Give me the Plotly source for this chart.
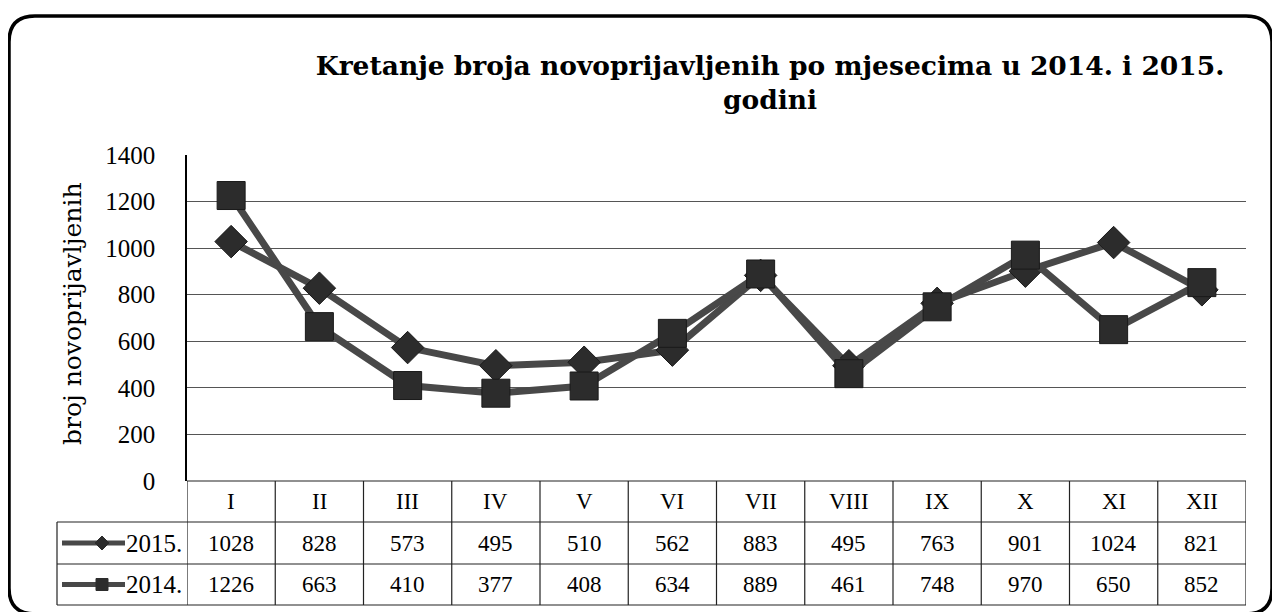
import plotly.graph_objects as go

W, H = 1280, 612
OFF = 8  # page body margin in the browser

months = ["I", "II", "III", "IV", "V", "VI", "VII", "VIII", "IX", "X", "XI", "XII"]
series_names = ["2015.", "2014."]
values_2015 = [1028, 828, 573, 495, 510, 562, 883, 495, 763, 901, 1024, 821]
values_2014 = [1226, 663, 410, 377, 408, 634, 889, 461, 748, 970, 650, 852]
y_ticks = [0, 200, 400, 600, 800, 1000, 1200, 1400]

title_text = "Kretanje broja novoprijavljenih po mjesecima u 2014. i 2015.<br>godini"
y_title = "broj novoprijavljenih"

SERIF = "Liberation Serif"
TSERIF = "DejaVu Serif"
LINE_COL = "#484848"
MARK_COL = "#2c2c2c"
GRID_COL = "#555555"
TABLE_COL = "#222222"


def px(x):
    return (x - OFF) / W


def py(y):
    return 1 - (y - OFF) / H


# plot area in reference pixels
PL, PR, PT, PB = 187, 1246, 155, 481
ROW_Y = [481, 522, 564, 605]
KEY_L = 57

fig = go.Figure()

fig.add_trace(go.Scatter(
    x=months, y=values_2015, mode="lines+markers",
    name=series_names[0],
    line=dict(color=LINE_COL, width=7),
    marker=dict(symbol="diamond", size=25, color=MARK_COL,
                line=dict(color="#1a1a1a", width=1)),
    showlegend=False,
))
fig.add_trace(go.Scatter(
    x=months, y=values_2014, mode="lines+markers",
    name=series_names[1],
    line=dict(color=LINE_COL, width=7),
    marker=dict(symbol="square", size=28, color=MARK_COL,
                line=dict(color="#1a1a1a", width=1)),
    showlegend=False,
))

shapes = []
annotations = []

# table horizontal lines
shapes.append(dict(type="line", xref="paper", yref="paper",
                   x0=px(PL), x1=px(PR), y0=py(ROW_Y[0]), y1=py(ROW_Y[0]),
                   line=dict(color=TABLE_COL, width=1.2)))
for yy in ROW_Y[1:]:
    shapes.append(dict(type="line", xref="paper", yref="paper",
                       x0=px(KEY_L), x1=px(PR), y0=py(yy), y1=py(yy),
                       line=dict(color=TABLE_COL, width=1.2)))
# table vertical lines (column borders, via x-axis scale)
for i in range(len(months) + 1):
    shapes.append(dict(type="line", xref="x", yref="paper",
                       x0=i - 0.5, x1=i - 0.5, y0=py(ROW_Y[0]), y1=py(ROW_Y[3]),
                       line=dict(color=TABLE_COL, width=1.2)))
shapes.append(dict(type="line", xref="paper", yref="paper",
                   x0=px(KEY_L), x1=px(KEY_L), y0=py(ROW_Y[1]), y1=py(ROW_Y[3]),
                   line=dict(color=TABLE_COL, width=1.2)))

cell_font = dict(family=SERIF, size=23, color="black")

# category labels and values
for i, m in enumerate(months):
    annotations.append(dict(x=i, y=py((ROW_Y[0] + ROW_Y[1]) / 2), xref="x", yref="paper",
                            xanchor="center", yanchor="middle",
                            text=m, showarrow=False, font=cell_font))
    annotations.append(dict(x=i, y=py((ROW_Y[1] + ROW_Y[2]) / 2), xref="x", yref="paper",
                            xanchor="center", yanchor="middle",
                            text=str(values_2015[i]), showarrow=False, font=cell_font))
    annotations.append(dict(x=i, y=py((ROW_Y[2] + ROW_Y[3]) / 2), xref="x", yref="paper",
                            xanchor="center", yanchor="middle",
                            text=str(values_2014[i]), showarrow=False, font=cell_font))

# legend keys in table
for k, (name, sym) in enumerate(zip(series_names, ["diamond", "square"])):
    yc = (ROW_Y[1 + k] + ROW_Y[2 + k]) / 2
    shapes.append(dict(type="line", xref="paper", yref="paper",
                       x0=px(62), x1=px(125), y0=py(yc), y1=py(yc),
                       line=dict(color=LINE_COL, width=5)))
    cx = 102
    if sym == "diamond":
        r = 7
        path = (f"M {px(cx - r)} {py(yc)} L {px(cx)} {py(yc - r)} "
                f"L {px(cx + r)} {py(yc)} L {px(cx)} {py(yc + r)} Z")
    else:
        r = 6
        path = (f"M {px(cx - r)} {py(yc - r)} L {px(cx + r)} {py(yc - r)} "
                f"L {px(cx + r)} {py(yc + r)} L {px(cx - r)} {py(yc + r)} Z")
    shapes.append(dict(type="path", xref="paper", yref="paper", path=path,
                       fillcolor=MARK_COL, line=dict(color=MARK_COL, width=1)))
    annotations.append(dict(x=px(184), y=py(yc), xref="paper", yref="paper",
                            xanchor="right", yanchor="middle", text=name, showarrow=False,
                            font=dict(family=SERIF, size=25, color="black")))

# outer rounded frame
L_, R_, T_, B_ = 9, 1272, 16, 614
rad = 26
frame = (f"M {px(L_ + rad)} {py(T_)} L {px(R_ - rad)} {py(T_)} "
         f"Q {px(R_)} {py(T_)} {px(R_)} {py(T_ + rad)} "
         f"L {px(R_)} {py(B_ - rad)} Q {px(R_)} {py(B_)} {px(R_ - rad)} {py(B_)} "
         f"L {px(L_ + rad)} {py(B_)} Q {px(L_)} {py(B_)} {px(L_)} {py(B_ - rad)} "
         f"L {px(L_)} {py(T_ + rad)} Q {px(L_)} {py(T_)} {px(L_ + rad)} {py(T_)} Z")
shapes.append(dict(type="path", xref="paper", yref="paper", path=frame,
                   line=dict(color="black", width=3.5), layer="below"))

# y-axis title
annotations.append(dict(x=px(72), y=py(314), xref="paper", yref="paper",
                        xanchor="center", yanchor="middle",
                        text=y_title, textangle=-90, showarrow=False,
                        font=dict(family=TSERIF, size=25, color="black")))

fig.update_layout(
    width=W, height=H, autosize=False,
    margin=dict(l=0, r=0, t=0, b=0),
    paper_bgcolor="white", plot_bgcolor="white",
    title=dict(text=title_text, x=px(770), y=py(75), xanchor="center", yanchor="middle",
               xref="paper", yref="paper", automargin=False,
               font=dict(family=TSERIF, size=26.5, color="black", weight="bold")),
    xaxis=dict(domain=[px(PL), px(PR)], range=[-0.5, len(months) - 0.5],
               type="category", automargin=False,
               showticklabels=False, showgrid=False, zeroline=False, showline=False),
    yaxis=dict(domain=[py(PB), py(PT)], range=[0, 1400], tickvals=y_ticks,
               automargin=False,
               showgrid=True, gridcolor=GRID_COL, gridwidth=1,
               zeroline=False, showline=True, linecolor="black", linewidth=1.5,
               ticks="", ticklabelstandoff=25,
               tickfont=dict(family=SERIF, size=25, color="black")),
    shapes=shapes,
    annotations=annotations,
)

fig.write_html("out.html")
